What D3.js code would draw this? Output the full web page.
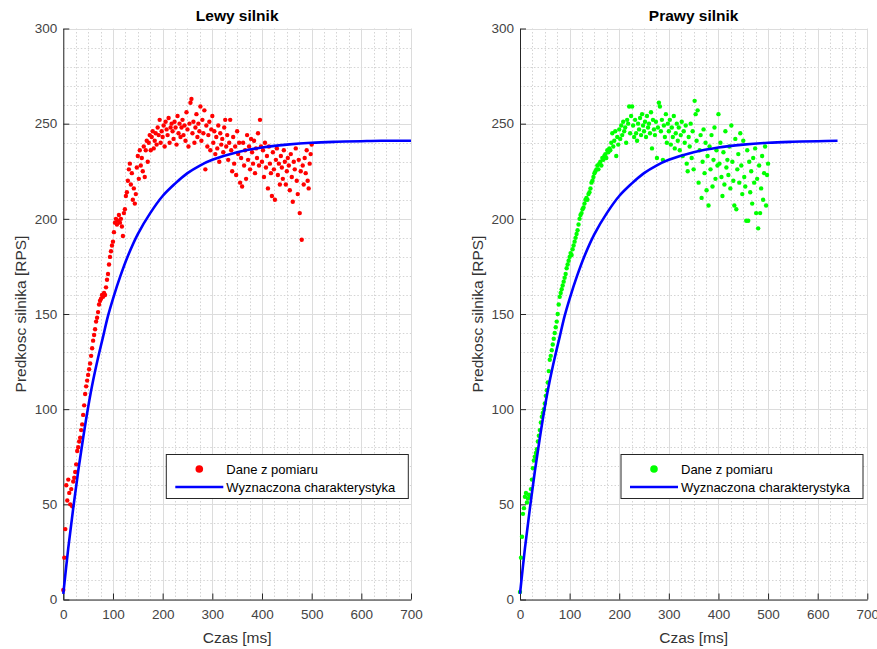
<!DOCTYPE html>
<html>
<head>
<meta charset="utf-8">
<script src="https://cdn.jsdelivr.net/npm/d3@7"></script>
<style>
  body { margin: 0; background: #fff; }
  svg { font-family: "Liberation Sans", Arial, Helvetica, sans-serif; }
</style>
</head>
<body>
<div id="chart"></div>
<script>
// measurement samples every 2 ms, from 0 to 500 ms
var sampleStep = 2;

var leftSpeed = [
  5, 22, 37, 60, 52, 63, 56, 50, 58, 49,
  62, 64, 67, 71, 78, 80, 83, 85, 89, 92,
  97, 102, 108, 112, 115, 118, 121, 124, 128, 132,
  136, 139, 142, 146, 148, 151, 155, 157, 158, 160,
  159, 161, 160, 164, 168, 171, 176, 180, 183, 186,
  188, 193, 198, 200, 197, 199, 202, 198, 200, 196,
  191, 203, 205, 212, 214, 220, 226, 229, 218, 224,
  210, 216, 208, 213, 227, 233, 221, 236, 228, 232,
  225, 238, 222, 236, 241, 230, 240, 244, 236, 243,
  246, 237, 241, 245, 239, 248, 244, 252, 240, 246,
  243, 249, 238, 251, 247, 244, 253, 240, 248, 250,
  246, 242, 251, 248, 239, 254, 245, 250, 243, 248,
  252, 244, 249, 241, 256, 247, 238, 250, 261, 263,
  245, 251, 240, 248, 255, 243, 250, 246, 259, 241,
  252, 245, 257, 226, 249, 238, 244, 251, 236, 247,
  254, 240, 246, 234, 243, 237, 249, 230, 245, 239,
  242, 235, 248, 252, 238, 244, 231, 240, 252, 236,
  225, 243, 229, 238, 223, 246, 234, 240, 219, 232,
  217, 240, 228, 236, 221, 244, 231, 238, 226, 242,
  235, 229, 241, 224, 237, 232, 245, 228, 252, 238,
  230, 236, 222, 240, 227, 233, 216, 238, 229, 224,
  212, 235, 226, 210, 231, 237, 223, 229, 218, 233,
  227, 221, 236, 230, 218, 225, 232, 228, 215, 234,
  222, 209, 230, 226, 237, 220, 213, 231, 203, 225,
  189, 228, 218, 232, 224, 236, 220, 216, 229, 234,
  239
];

var rightSpeed = [
  4, 22, 33, 45, 48, 54, 56, 51, 53, 55,
  54, 58, 63, 69, 73, 75, 77, 79, 83, 86,
  89, 93, 96, 98, 100, 103, 107, 110, 114, 120,
  126, 128, 131, 134, 137, 140, 143, 146, 150, 155,
  159, 161, 163, 165, 167, 169, 171, 174, 176, 178,
  180, 182, 181, 184, 186, 188, 190, 192, 194, 197,
  200, 202, 203, 205, 206, 208, 210, 211, 210, 213,
  214, 216, 219, 220, 222, 224, 225, 226, 228, 226,
  229, 230, 228, 232, 231, 233, 234, 232, 236, 235,
  237, 236, 240, 245, 238, 241, 246, 233, 243, 239,
  247, 242, 249, 244, 251, 246, 248, 240, 252, 250,
  259, 245, 254, 259, 249, 243, 252, 245, 241, 250,
  247, 253, 244, 255, 249, 246, 251, 243, 254, 248,
  250, 245, 256, 237, 252, 247, 244, 251, 232, 248,
  261, 259, 246, 252, 231, 249, 243, 255, 240, 250,
  246, 252, 239, 248, 243, 254, 237, 245, 250, 241,
  248, 236, 244, 251, 233, 246, 240, 249, 229, 225,
  243, 238, 250, 232, 246, 226, 262, 255, 241, 257,
  219, 236, 244, 211, 230, 247, 224, 240, 215, 233,
  207, 238, 226, 244, 217, 231, 248, 221, 236, 228,
  255, 229, 240, 222, 212, 235, 218, 246, 227, 231,
  223, 238, 216, 249, 230, 220, 207, 242, 205, 226,
  234, 219, 245, 228, 213, 241, 222, 217, 199, 236,
  199, 230, 214, 225, 208, 232, 219, 237, 203, 221,
  195, 228, 203, 216, 233, 210, 224, 238, 207, 223,
  229
];

// fitted characteristic
var fitTime  = [0, 10, 20, 30, 40, 50, 60, 70, 80, 90, 100, 115, 130, 150, 175, 200, 225, 250, 275, 300, 350, 400, 450, 500, 550, 600, 640, 700];
var fitSpeed = [3, 27, 48, 67.5, 85, 101, 115, 127, 138, 149, 158, 170, 180.5, 192, 203, 212, 218.5, 224, 228, 231, 235, 237.5, 239, 240, 240.5, 240.8, 241, 241];
var fitEndLeft = 700, fitEndRight = 640;

var titles = ["Lewy silnik", "Prawy silnik"];
var xTicks = [0, 100, 200, 300, 400, 500, 600, 700];
var yTicks = [0, 50, 100, 150, 200, 250, 300];
var legendLabels = ["Dane z pomiaru", "Wyznaczona charakterystyka"];

var w = 877, h = 649;
var svg = d3.select("#chart").append("svg")
    .attr("width", w)
    .attr("height", h);

var panels = [
  { title: titles[0], data: leftSpeed,  color: "#ff0000", fitEnd: fitEndLeft,  left: 63.3, right: 411,   legendX: 103 },
  { title: titles[1], data: rightSpeed, color: "#00ff00", fitEnd: fitEndRight, left: 520,  right: 867.3, legendX: 101 }
];
var plotTop = 28.5, plotBottom = 599.5;

panels.forEach(function(p) {
  var x = d3.scaleLinear().domain([0, 700]).range([p.left, p.right]);
  var y = d3.scaleLinear().domain([0, 300]).range([plotBottom, plotTop]);
  var g = svg.append("g");

  // minor grid (dotted)
  var minorX = d3.range(0, 701, 25).filter(function(v) { return v % 100 != 0; });
  var minorY = d3.range(0, 301, 10).filter(function(v) { return v % 50 != 0; });
  g.selectAll(".mx").data(minorX).enter().append("line")
      .attr("x1", function(d) { return Math.round(x(d)) + 0.5; })
      .attr("x2", function(d) { return Math.round(x(d)) + 0.5; })
      .attr("y1", plotTop).attr("y2", plotBottom)
      .attr("stroke", "#d4d4d4").attr("stroke-dasharray", "1.5,2");
  g.selectAll(".my").data(minorY).enter().append("line")
      .attr("y1", function(d) { return Math.round(y(d)) + 0.5; })
      .attr("y2", function(d) { return Math.round(y(d)) + 0.5; })
      .attr("x1", p.left).attr("x2", p.right)
      .attr("stroke", "#d4d4d4").attr("stroke-dasharray", "1.5,2");

  // major grid
  g.selectAll(".gx").data(xTicks).enter().append("line")
      .attr("x1", function(d) { return Math.round(x(d)) + 0.5; })
      .attr("x2", function(d) { return Math.round(x(d)) + 0.5; })
      .attr("y1", plotTop).attr("y2", plotBottom)
      .attr("stroke", "#dcdcdc");
  g.selectAll(".gy").data(yTicks).enter().append("line")
      .attr("y1", function(d) { return Math.round(y(d)) + 0.5; })
      .attr("y2", function(d) { return Math.round(y(d)) + 0.5; })
      .attr("x1", p.left).attr("x2", p.right)
      .attr("stroke", "#dcdcdc");

  // axes, ticks pointing inwards
  var xAxis = g.append("g").attr("transform", "translate(0," + plotBottom + ")")
      .call(d3.axisBottom(x).tickValues(xTicks).tickSizeInner(-6).tickSizeOuter(0).tickPadding(10));
  var yAxis = g.append("g").attr("transform", "translate(" + p.left + ",0)")
      .call(d3.axisLeft(y).tickValues(yTicks).tickSizeInner(-6).tickSizeOuter(0).tickPadding(6));
  [xAxis, yAxis].forEach(function(a) {
    a.select(".domain").attr("stroke", "#262626");
    a.selectAll(".tick line").attr("stroke", "#262626");
    a.selectAll(".tick text").attr("fill", "#444").style("font-size", "13.5px");
  });

  // measured data
  g.append("g").selectAll("circle").data(p.data).enter().append("circle")
      .attr("cx", function(d, i) { return x(i * sampleStep); })
      .attr("cy", function(d) { return y(d); })
      .attr("r", 2.2)
      .attr("fill", p.color);

  // fitted curve
  var fit = fitTime.map(function(t, i) { return [t, fitSpeed[i]]; })
      .filter(function(d) { return d[0] <= p.fitEnd; });
  g.append("path").datum(fit)
      .attr("fill", "none")
      .attr("stroke", "#0000ff")
      .attr("stroke-width", 2.6)
      .attr("d", d3.line()
        .x(function(d) { return x(d[0]); })
        .y(function(d) { return y(d[1]); })
        .curve(d3.curveCatmullRom.alpha(0.5)));

  // title and labels
  var cx = (p.left + p.right) / 2;
  g.append("text").attr("x", cx).attr("y", 21)
      .attr("text-anchor", "middle").style("font-size", "15.5px").style("font-weight", "bold")
      .attr("fill", "#000").text(p.title);
  g.append("text").attr("x", cx).attr("y", 643)
      .attr("text-anchor", "middle").style("font-size", "15.5px")
      .attr("fill", "#333").text("Czas [ms]");
  g.append("text")
      .attr("transform", "translate(" + (p.left - 37) + "," + ((plotTop + plotBottom) / 2) + ") rotate(-90)")
      .attr("text-anchor", "middle").style("font-size", "15.5px")
      .attr("fill", "#333").text("Predkosc silnika [RPS]");

  // legend
  var lg = g.append("g").attr("transform", "translate(" + (p.left + p.legendX) + ",454.5)");
  lg.append("rect").attr("width", 242).attr("height", 44)
      .attr("fill", "#fff").attr("stroke", "#262626");
  lg.append("circle").attr("cx", 33).attr("cy", 14.5).attr("r", 3.8).attr("fill", p.color);
  lg.append("line").attr("x1", 9).attr("x2", 57).attr("y1", 32.5).attr("y2", 32.5)
      .attr("stroke", "#0000ff").attr("stroke-width", 2.6);
  lg.selectAll(".lt").data(legendLabels).enter().append("text")
      .attr("x", 60)
      .attr("y", function(d, i) { return 19 + i * 18; })
      .style("font-size", "13px")
      .attr("fill", "#000")
      .text(function(d) { return d; });
});
</script>
</body>
</html>
